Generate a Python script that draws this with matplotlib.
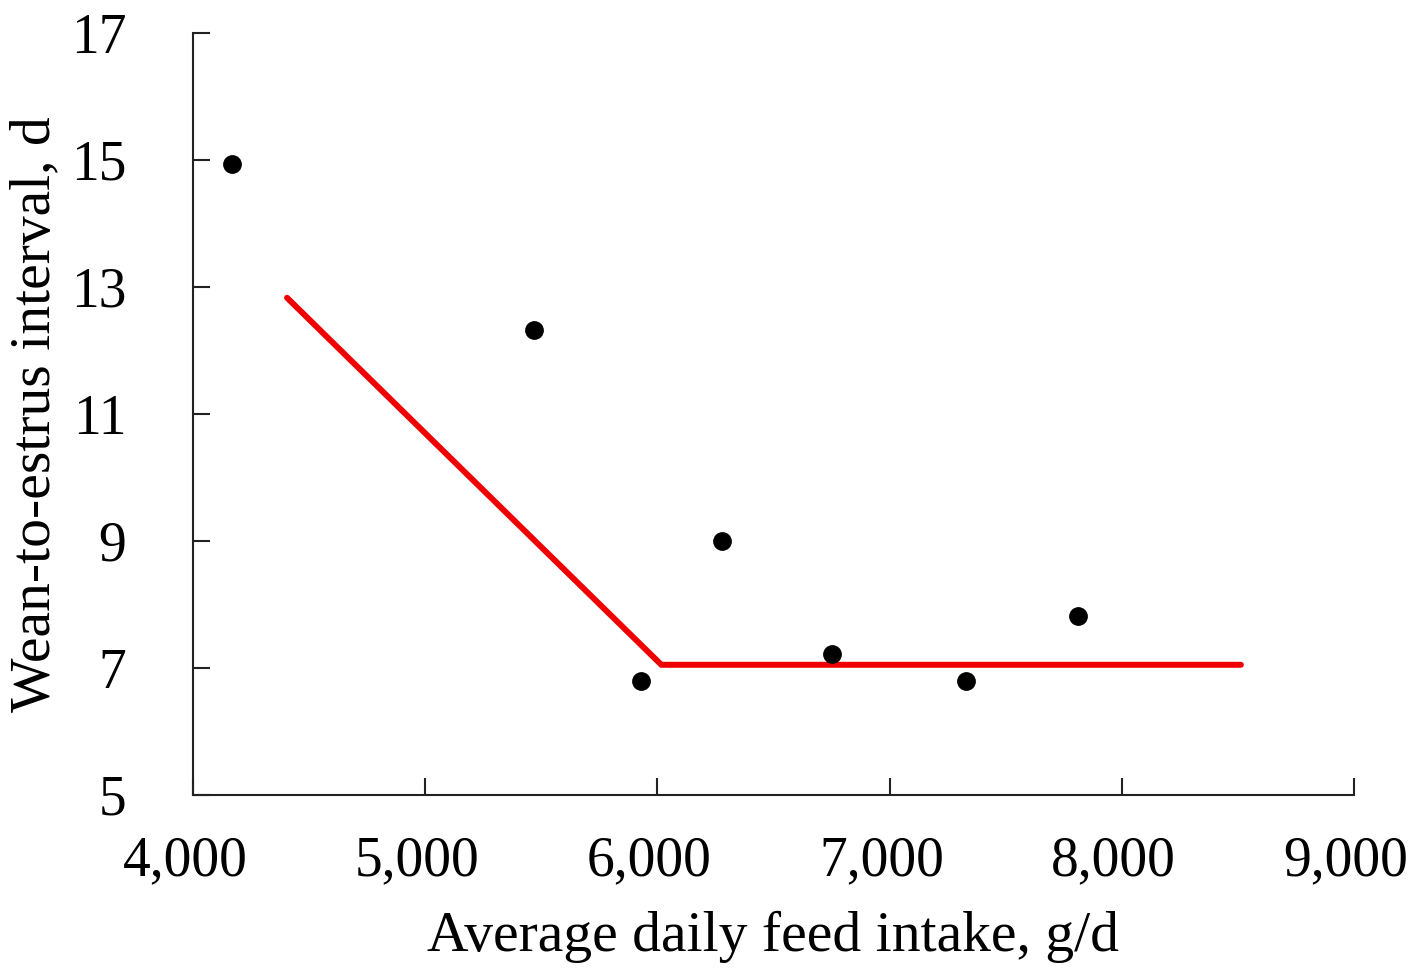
import numpy as np
import matplotlib.pyplot as plt
import matplotlib.transforms as mtransforms

# observed points
feed_intake = [4170, 5470, 5930, 6280, 6750, 7330, 7810]
wei_days = [14.93, 12.33, 6.80, 9.00, 7.22, 6.80, 7.82]

# broken-line fit
fit_x = [4405, 6017, 8513]
fit_y = [12.83, 7.05, 7.05]

x_ticks = [4000, 5000, 6000, 7000, 8000, 9000]
y_ticks = [5, 7, 9, 11, 13, 15, 17]

plt.rcParams['font.family'] = ['Liberation Serif', 'DejaVu Serif']

fig = plt.figure(figsize=(14.16, 9.76), dpi=100)
ax = fig.add_axes([0.1363, 0.1855, 0.8199, 0.7807])

ax.plot(fit_x, fit_y, color='#f00000', lw=4.3, solid_capstyle='round', zorder=2)
ax.plot(feed_intake, wei_days, 'o', color='black', ms=12.5, zorder=3)

ax.set_xlim(4000, 9000)
ax.set_ylim(5, 17)
ax.set_xticks(x_ticks)
ax.set_xticklabels(['{:,}'.format(v) for v in x_ticks])
ax.set_yticks(y_ticks)

for s in ['top', 'right']:
    ax.spines[s].set_visible(False)
for s in ['left', 'bottom']:
    ax.spines[s].set_linewidth(1.5)
    ax.spines[s].set_color('#222222')

ax.tick_params(axis='x', direction='in', length=12, width=1.5, labelsize=40, pad=29, color='#222222')
ax.tick_params(axis='y', direction='in', length=12, width=1.5, labelsize=40, pad=48, color='#222222')

# x tick labels sit a little left of their ticks in the original
shift = mtransforms.ScaledTranslation(-8 / 100, 0, fig.dpi_scale_trans)
for lab in ax.get_xticklabels():
    lab.set_transform(lab.get_transform() + shift)

ax.set_xlabel('Average daily feed intake, g/d', fontsize=41.5, labelpad=17)
ax.set_ylabel('Wean-to-estrus interval, d', fontsize=41.5, labelpad=7)

fig.savefig('out.png', dpi=100)
